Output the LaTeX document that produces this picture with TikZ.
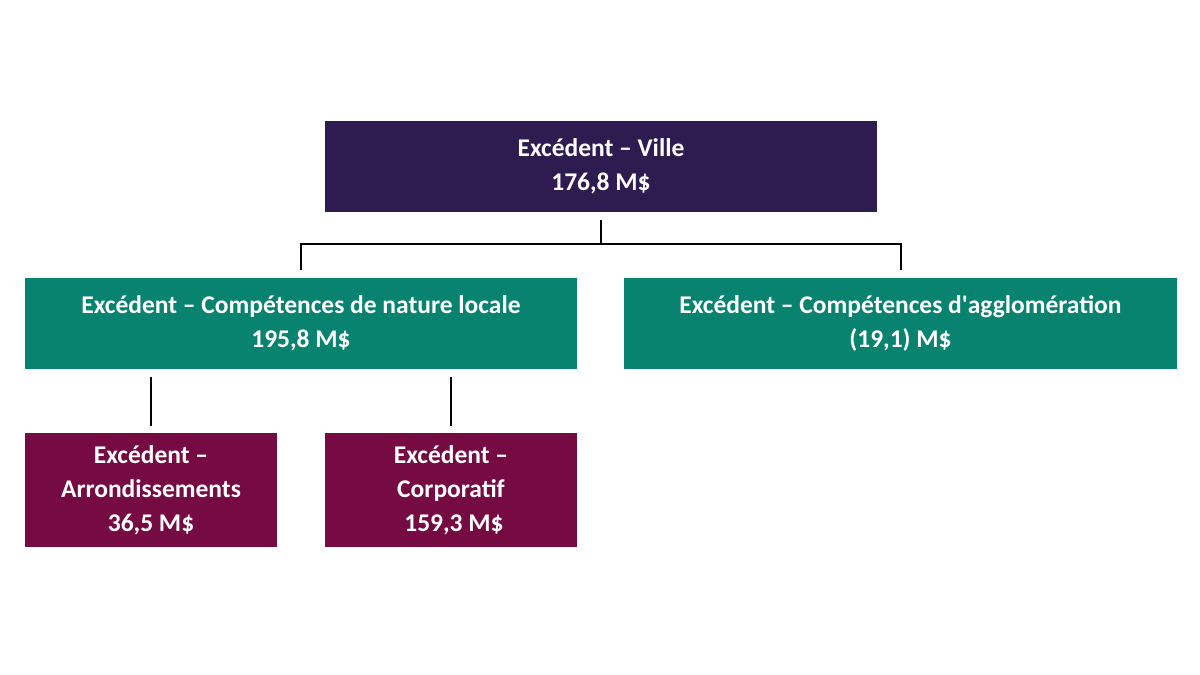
\documentclass[tikz,border=0pt]{standalone}
\usepackage{fontspec}
\setmainfont{Carlito}
\usetikzlibrary{positioning}

\definecolor{villecol}{RGB}{46,27,80}
\definecolor{compcol}{RGB}{8,131,112}
\definecolor{subcol}{RGB}{118,10,66}

\begin{document}
\begin{tikzpicture}[x=0.5pt,y=-0.5pt,
    box/.style={rectangle, inner sep=0pt, text=white, align=center,
        font=\fontsize{12.75}{17}\selectfont\bfseries},
    widebox/.style={box, minimum width=276pt, minimum height=45.5pt},
    smallbox/.style={box, minimum width=126pt, minimum height=57pt, fill=subcol},
    conn/.style={line width=1pt, black}]

        \useasboundingbox (0,0) rectangle (1200,675);

        \node [widebox, fill=villecol] (ville) at (601,166.5) {Excédent – Ville\\176,8 M\$};
        \node [widebox, fill=compcol] (locale) at (301,323.5) {Excédent – Compétences de nature locale\\195,8 M\$};
        \node [widebox, fill=compcol, minimum width=276.5pt] (agglo) at (900.5,323.5) {Excédent – Compétences d\textquotesingle agglomération\\(19,1) M\$};
        \node [smallbox] (arr) at (151,490) {Excédent –\\Arrondissements\\36,5 M\$};
        \node [smallbox] (corpo) at (451,490) {Excédent –\\Corporatif\\\hspace{3pt}159,3 M\$};

        % connectors
        \draw[conn] ([yshift=-4pt]ville.south) -- ++(0,24) coordinate (bar);
        \draw[conn] ([yshift=4pt]locale.north) |- (bar) -| ([yshift=4pt]agglo.north);
        \draw[conn] ([yshift=-4pt]locale.south -| arr.north) -- ([yshift=3.5pt]arr.north);
        \draw[conn] ([yshift=-4pt]locale.south -| corpo.north) -- ([yshift=3.5pt]corpo.north);

      \end{tikzpicture}
\end{document}
